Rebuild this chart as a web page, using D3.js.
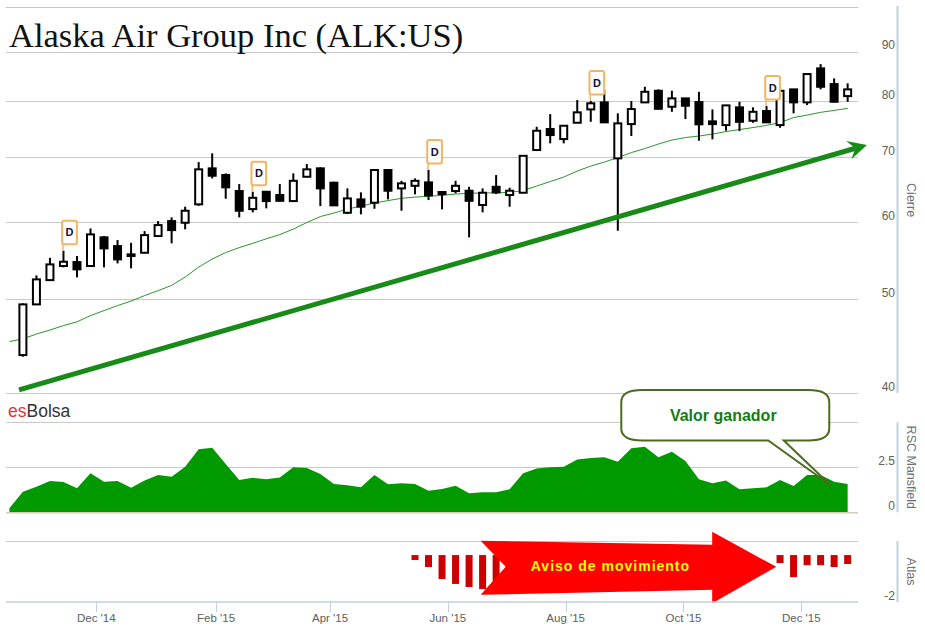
<!DOCTYPE html>
<html><head><meta charset="utf-8">
<script src="https://cdn.jsdelivr.net/npm/d3@7"></script>
<style>body{margin:0;background:#fff;} svg{display:block;font-family:"Liberation Sans",Arial,sans-serif;}</style>
</head><body><svg id="c" width="925" height="632"></svg>
<script>
// ---------- DATA ----------
const title = "Alaska Air Group Inc (ALK:US)";
const dates = ["2014-10-24","2014-10-31","2014-11-07","2014-11-14","2014-11-21","2014-11-28","2014-12-05","2014-12-12","2014-12-19","2014-12-26",
"2015-01-02","2015-01-09","2015-01-16","2015-01-23","2015-01-30","2015-02-06","2015-02-13","2015-02-20","2015-02-27","2015-03-06",
"2015-03-13","2015-03-20","2015-03-27","2015-04-03","2015-04-10","2015-04-17","2015-04-24","2015-05-01","2015-05-08","2015-05-15",
"2015-05-22","2015-05-29","2015-06-05","2015-06-12","2015-06-19","2015-06-26","2015-07-03","2015-07-10","2015-07-17","2015-07-24",
"2015-07-31","2015-08-07","2015-08-14","2015-08-21","2015-08-28","2015-09-04","2015-09-11","2015-09-18","2015-09-25","2015-10-02",
"2015-10-09","2015-10-16","2015-10-23","2015-10-30","2015-11-06","2015-11-13","2015-11-20","2015-11-27","2015-12-04","2015-12-11",
"2015-12-18","2015-12-25"];
const open  = [43.77,49.37,52.30,54.08,54.59,54.08,57.89,56.70,55.60,55.81,58.07,60.17,59.93,62.61,68.20,67.12,64.62,61.91,64.51,64.01,63.10,66.85,68.20,65.91,61.37,63.35,62.85,67.93,65.03,65.43,65.96,64.47,64.62,64.67,62.51,65.28,64.01,64.36,71.23,74.87,73.11,76.00,78.45,79.77,69.84,75.76,79.77,82.00,78.94,80.53,79.82,76.25,75.58,78.83,76.36,78.14,75.58,82.27,79.77,86.48,83.31,80.97];
const high  = [49.49,52.89,55.15,56.07,55.38,59.13,58.07,57.52,57.15,58.76,60.17,60.70,62.26,69.22,70.67,67.39,65.70,64.51,64.60,65.70,67.39,68.90,68.36,66.06,65.03,64.42,68.04,68.00,66.21,66.59,67.93,64.50,66.21,65.28,65.03,67.12,65.13,70.30,75.28,77.58,75.50,80.21,80.02,82.13,77.72,80.02,82.78,82.27,82.00,80.60,81.80,78.45,79.25,79.88,78.83,79.07,82.05,82.35,85.40,87.36,84.45,83.45];
const low   = [43.60,49.29,52.25,53.91,52.64,54.00,53.91,54.42,53.78,55.75,58.00,57.07,59.00,62.40,66.59,63.45,60.70,61.43,62.02,63.05,62.95,66.80,62.35,62.40,61.18,61.14,61.96,63.35,61.67,64.11,63.25,61.87,64.27,57.89,61.43,64.16,62.26,64.30,71.20,72.37,72.37,75.95,76.17,76.00,58.80,73.64,79.70,78.45,78.00,76.67,72.82,73.06,74.57,74.51,76.00,76.00,75.10,77.72,79.26,82.27,79.80,79.88];
const close = [49.37,52.39,54.29,54.63,53.65,58.30,56.39,54.94,55.38,58.20,59.60,58.90,61.67,68.04,67.01,65.19,61.67,63.59,63.10,63.14,66.21,68.04,65.03,62.46,63.50,62.26,67.93,64.67,65.81,66.21,63.96,64.16,65.43,63.14,64.36,64.42,64.67,70.26,74.57,73.81,75.46,77.90,79.59,76.07,75.89,78.51,81.80,78.56,80.53,79.13,75.71,75.76,79.20,76.17,78.00,76.07,82.00,79.77,85.32,82.78,79.88,82.27];
// moving average and RSC Mansfield (first value = week before first candle)
const lineDates = ["2014-10-17"].concat(dates);
const movingAvg = [45.20,45.49,46.01,46.45,46.95,47.37,48.07,48.65,49.23,49.76,50.41,51.01,51.65,52.68,53.94,54.98,55.84,56.50,57.07,57.69,58.27,59.04,59.96,60.82,61.33,61.91,62.35,62.80,63.17,63.51,63.70,63.82,63.96,64.16,64.28,64.33,64.34,64.42,64.69,65.39,66.09,66.80,67.76,68.57,69.22,69.97,70.80,71.48,72.25,72.94,73.37,73.64,73.98,74.43,74.78,75.14,75.53,76.03,76.94,77.40,77.90,78.26,78.64];
const rscMansfield = [0.22,1.14,1.42,1.74,1.68,1.33,2.17,1.70,1.74,1.37,1.76,2.07,1.98,2.53,3.50,3.59,2.68,1.79,1.92,1.83,1.94,2.50,2.46,2.13,1.57,1.50,1.39,2.07,1.56,1.61,1.57,1.20,1.29,1.48,1.06,1.11,1.11,1.28,2.17,2.44,2.50,2.53,2.94,3.02,3.06,2.81,3.56,3.64,3.06,3.37,2.85,1.83,1.61,1.76,1.28,1.33,1.39,1.79,1.46,2.07,2.07,1.70,1.57];
const atlas = [null,null,null,null,null,null,null,null,null,null,null,null,null,null,null,null,null,null,null,null,null,null,null,null,null,null,null,null,null,-0.21,-0.51,-1.02,-1.23,-1.36,-1.45,-1.40,null,null,null,null,null,null,null,null,null,null,null,null,null,null,null,null,null,null,null,null,-0.34,-0.94,-0.43,-0.43,-0.51,-0.38];
const dividendDates = ["2014-11-14","2015-02-20","2015-05-22","2015-08-14","2015-11-13"];
const priceTicks = [40,50,60,70,80,90,100];
const priceLabels = [40,50,60,70,80,90];
const rscTicks = [0,2.5,5];
const rscLabels = [0,2.5];
const atlasLabels = [-2];
const xTickDates = ["2014-12-01","2015-02-01","2015-04-01","2015-06-01","2015-08-01","2015-10-01","2015-12-01"];
// annotations (anchored in data space)
const trendStart = {date:"2014-10-22", value:40.3};
const trendEnd   = {date:"2016-01-04", value:72.1};
const moveArrow  = {from:"2015-06-18", to:"2015-11-18", value:-0.5, text:"Aviso de movimiento"};
const callout    = {date:"2015-12-16", value:1.52, text:"Valor ganador"};

// ---------- SCALES ----------
const parse = d3.utcParse("%Y-%m-%d");
const svg = d3.select("#c");
const plotL = 6, plotR = 858;
const x = d3.scaleUtc().domain([parse("2014-12-01"), parse("2015-12-01")]).range([96.3, 801.3]);
const yMain = d3.scaleLog().domain([40,100]).range([393, 7.2]);
const yRsc = d3.scaleLinear().domain([0,5]).range([512.3, 422.3]);
const yAt = d3.scaleLinear().domain([-2,0.6]).range([602, 541]);

svg.append("defs").append("clipPath").attr("id","clip")
  .append("rect").attr("x",plotL).attr("y",0).attr("width",plotR-plotL).attr("height",632);

const grid = "#c8c8c8", axisBlue = "#c0d0e0", lbl = "#606060";

// ---------- GRIDLINES ----------
svg.append("g").selectAll("line").data(priceTicks).join("line")
  .attr("x1",plotL).attr("x2",plotR).attr("y1",d=>Math.round(yMain(d))+0.5).attr("y2",d=>Math.round(yMain(d))+0.5)
  .attr("stroke",grid);
svg.append("g").selectAll("line").data(rscTicks.filter(d=>d>0)).join("line")
  .attr("x1",plotL).attr("x2",plotR).attr("y1",d=>Math.round(yRsc(d))+0.5).attr("y2",d=>Math.round(yRsc(d))+0.5)
  .attr("stroke",grid);
svg.append("line").attr("x1",plotL).attr("x2",plotR).attr("y1",541.5).attr("y2",541.5).attr("stroke",grid);

// ---------- TITLE ----------
svg.append("text").attr("x",9).attr("y",47).attr("font-family","'Liberation Serif','Times New Roman',serif")
  .attr("font-size",34.5).attr("fill","#111").text(title);

const plot = svg.append("g").attr("clip-path","url(#clip)");

// ---------- TREND ARROW ----------
{
  const x0 = x(parse(trendStart.date)), y0 = yMain(trendStart.value);
  const x1 = x(parse(trendEnd.date)), y1 = yMain(trendEnd.value);
  const ang = Math.atan2(y1-y0, x1-x0);
  const ux = Math.cos(ang), uy = Math.sin(ang);
  svg.append("line").attr("x1",x0).attr("y1",y0).attr("x2",x1-12*ux).attr("y2",y1-12*uy)
    .attr("stroke","#178a17").attr("stroke-width",5);
  svg.append("path").attr("transform",`translate(${x1},${y1}) rotate(${ang*180/Math.PI})`)
    .attr("d","M0,0 L-19,-9.5 L-12,0 L-19,9.5 Z").attr("fill","#178a17");
}

// ---------- MOVING AVERAGE ----------
plot.append("path").datum(lineDates.map((d,i)=>({date:parse(d), v:movingAvg[i]})))
  .attr("fill","none").attr("stroke","#2a962a").attr("stroke-width",1)
  .attr("d", d3.line().x(d=>x(d.date)).y(d=>yMain(d.v)));

// ---------- CANDLES ----------
const candles = dates.map((d,i)=>({date:parse(d), o:open[i], h:high[i], l:low[i], c:close[i]}));
plot.append("g").selectAll("line").data(candles).join("line")
  .attr("x1",d=>x(d.date)).attr("x2",d=>x(d.date))
  .attr("y1",d=>yMain(d.h)).attr("y2",d=>yMain(d.l)).attr("stroke","#000").attr("stroke-width",2);
plot.append("g").selectAll("rect").data(candles).join("rect")
  .attr("x",d=>x(d.date)-3.5).attr("width",7)
  .attr("y",d=>yMain(Math.max(d.o,d.c)))
  .attr("height",d=>Math.max(1.5, Math.abs(yMain(d.o)-yMain(d.c))))
  .attr("fill",d=>d.c>=d.o?"#fff":"#000").attr("stroke","#000").attr("stroke-width",2);

// ---------- DIVIDEND FLAGS ----------
const flags = dividendDates.map(d=>candles.find(c=>+c.date===+parse(d)));
const fg = svg.append("g").selectAll("g").data(flags).join("g");
fg.append("line").attr("x1",d=>x(d.date)-0.5).attr("x2",d=>x(d.date)-0.5)
  .attr("y1",d=>yMain(d.h)-6.5).attr("y2",d=>yMain(d.h)).attr("stroke","#f3b463").attr("stroke-width",1.5);
fg.append("rect").attr("x",d=>x(d.date)-1.3).attr("y",d=>yMain(d.h)-30).attr("width",14.7).attr("height",23.5)
  .attr("rx",2).attr("fill","#fff").attr("stroke","#f3b463").attr("stroke-width",2);
fg.append("text").attr("x",d=>x(d.date)+6.1).attr("y",d=>yMain(d.h)-14.5).attr("text-anchor","middle")
  .attr("font-size",11).attr("font-weight","bold").attr("fill","#10103a").text("D");

// ---------- RSC MANSFIELD ----------
plot.append("path").datum(lineDates.map((d,i)=>({date:parse(d), v:rscMansfield[i]})))
  .attr("fill","#009900")
  .attr("d", d3.area().x(d=>x(d.date)).y0(yRsc(0)).y1(d=>yRsc(d.v)));
svg.append("line").attr("x1",plotL).attr("x2",plotR).attr("y1",yRsc(0)+0.5).attr("y2",yRsc(0)+0.5)
  .attr("stroke","#dccbbb").attr("stroke-width",1.5);

// ---------- ATLAS ----------
const atlasData = dates.map((d,i)=>({date:parse(d), v:atlas[i]})).filter(d=>d.v!==null);
plot.append("g").selectAll("rect").data(atlasData).join("rect")
  .attr("x",d=>x(d.date)-3.5).attr("width",7)
  .attr("y",yAt(0)).attr("height",d=>yAt(d.v)-yAt(0)).attr("fill","#cc0000");

// movement arrow
{
  const tx = x(parse(moveArrow.from)), hx = x(parse(moveArrow.to)), cy = yAt(moveArrow.value);
  const pts = [[tx,cy-26],[hx-64,cy-22],[hx-64,cy-35],[hx,cy],[hx-64,cy+36.5],[hx-64,cy+23],[tx,cy+28],[tx+25,cy]];
  svg.append("polygon").attr("points",pts.map(p=>p.join(",")).join(" ")).attr("fill","#ff0000");
  svg.append("text").attr("x",(tx+hx)/2-18).attr("y",cy+4.5).attr("text-anchor","middle")
    .attr("font-size",14).attr("font-weight","bold").attr("letter-spacing",1).attr("fill","#ffff00")
    .text(moveArrow.text);
}

// ---------- CALLOUT ----------
{
  const px = x(parse(callout.date)), py = yRsc(callout.value);
  const L = px-209, R = px-1, T = py-95, B = py-44.5;
  const d = `M${L+21},${T} L${R-21},${T} Q${R},${T} ${R},${T+12} L${R},${B-12} Q${R},${B} ${R-21},${B}
    L${px-46.5},${B} L${px},${py} L${px-62},${B} L${L+21},${B} Q${L},${B} ${L},${B-12} L${L},${T+12} Q${L},${T} ${L+21},${T} Z`;
  svg.append("path").attr("d",d).attr("fill","#fff").attr("stroke","#4b6b1e").attr("stroke-width",2);
  svg.append("text").attr("x",(L+R)/2-2).attr("y",T+31).attr("text-anchor","middle")
    .attr("font-size",16).attr("font-weight","bold").attr("fill","#137d13").text(callout.text);
}

// ---------- BRAND ----------
const br = svg.append("text").attr("x",8).attr("y",417).attr("font-size",17.5);
br.append("tspan").attr("fill","#d9383a").text("es");
br.append("tspan").attr("fill","#333").text("Bolsa");

// ---------- Y AXES ----------
const axX = 897.5;
[[6,393],[422.3,512.3],[541,602]].forEach(([a,b])=>
  svg.append("line").attr("x1",axX).attr("x2",axX).attr("y1",a).attr("y2",b).attr("stroke",axisBlue).attr("stroke-width",2));
svg.append("g").selectAll("text").data(priceLabels).join("text")
  .attr("x",895).attr("y",d=>yMain(d)-2.5).attr("text-anchor","end").attr("font-size",12).attr("fill",lbl).text(d=>d);
svg.append("g").selectAll("text").data(rscLabels).join("text")
  .attr("x",895).attr("y",d=>yRsc(d)-2.5).attr("text-anchor","end").attr("font-size",12).attr("fill",lbl).text(d=>d);
svg.append("g").selectAll("text").data(atlasLabels).join("text")
  .attr("x",895).attr("y",d=>yAt(d)-2.5).attr("text-anchor","end").attr("font-size",12).attr("fill",lbl).text(d=>d);
[["Cierre",(yMain(100)+yMain(40))/2],["RSC Mansfield",(yRsc(0)+yRsc(5))/2],["Atlas",(yAt(-2)+yAt(0.6))/2]].forEach(([t,cy])=>
  svg.append("text").attr("transform",`translate(907,${cy}) rotate(90)`).attr("text-anchor","middle")
    .attr("font-size",12.5).attr("fill","#707070").text(t));

// ---------- X AXIS ----------
svg.append("line").attr("x1",plotL).attr("x2",plotR).attr("y1",602).attr("y2",602).attr("stroke",axisBlue).attr("stroke-width",1.5);
const fmt = d3.utcFormat("%b '%y");
const xt = svg.append("g").selectAll("g").data(xTickDates.map(parse)).join("g");
xt.append("line").attr("x1",d=>Math.round(x(d))+0.5).attr("x2",d=>Math.round(x(d))+0.5).attr("y1",602).attr("y2",612)
  .attr("stroke",axisBlue);
xt.append("text").attr("x",d=>x(d)).attr("y",622).attr("text-anchor","middle").attr("font-size",11.5).attr("fill",lbl).text(fmt);
</script></body></html>
